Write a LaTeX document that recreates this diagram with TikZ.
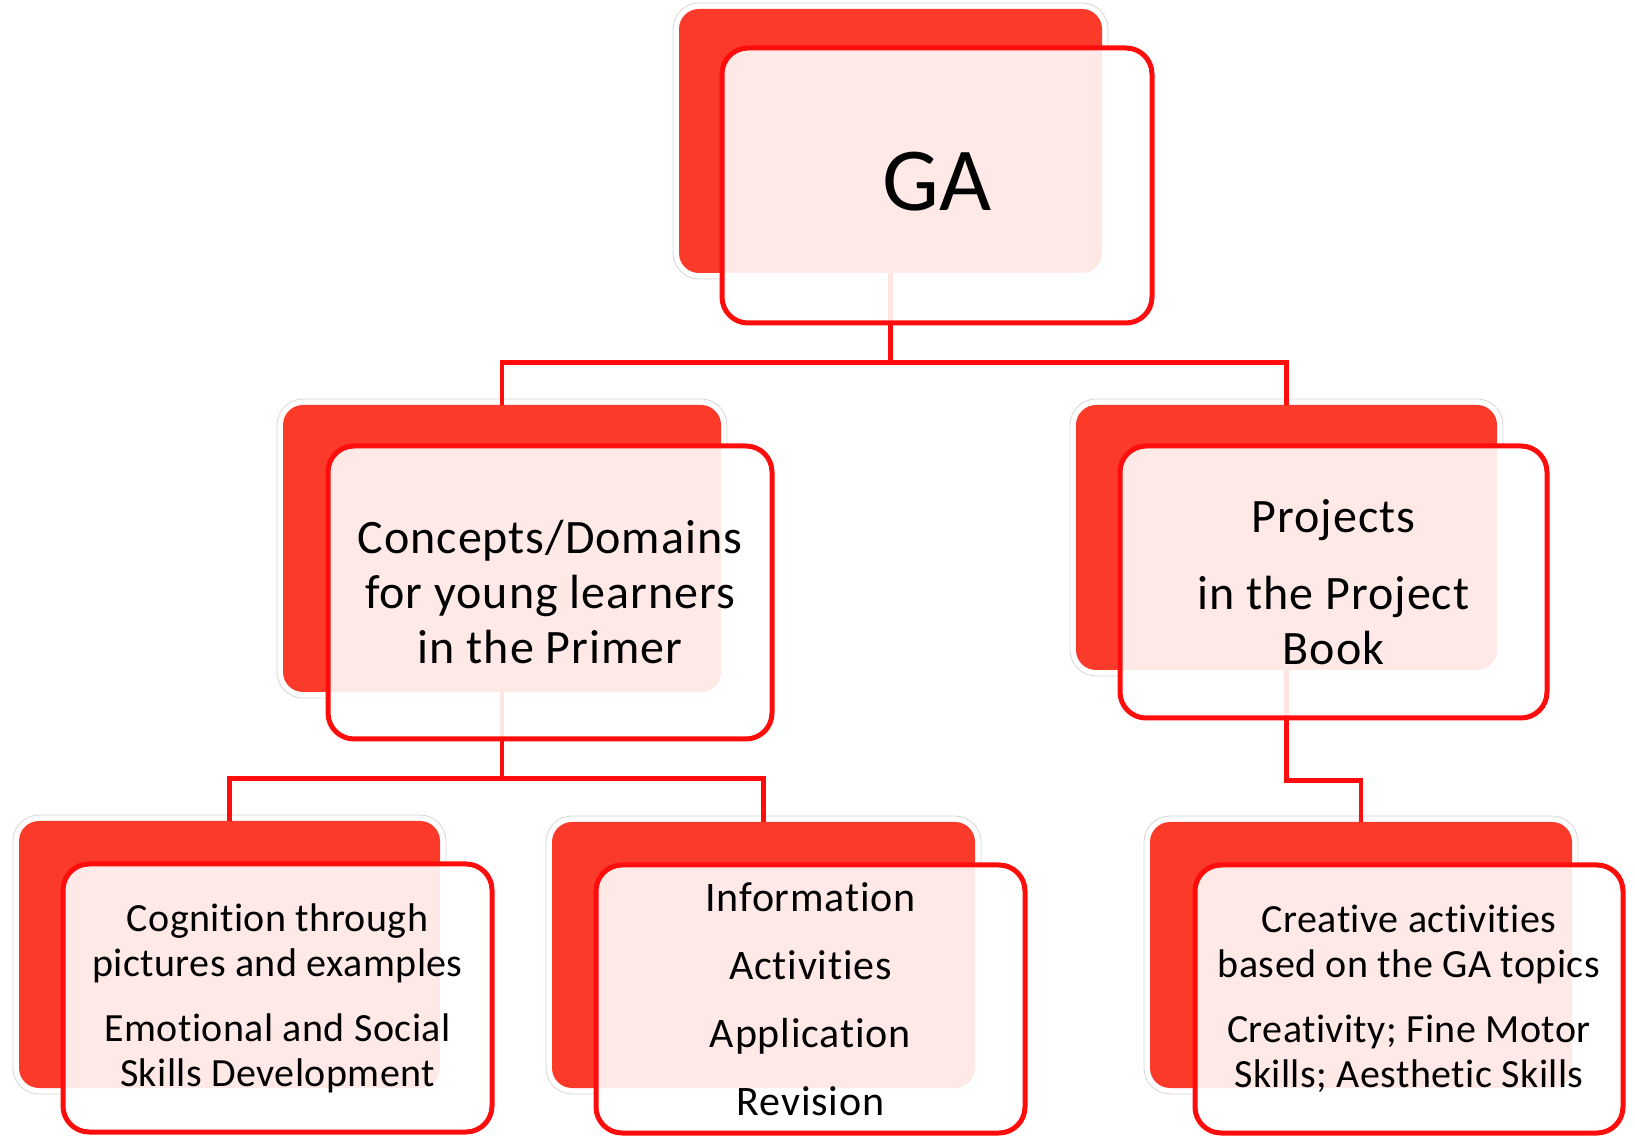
\documentclass[tikz,border=0pt]{standalone}
\usepackage{fontspec}
\setmainfont{Carlito}[Ligatures=NoCommon]
\usetikzlibrary{fit}
\definecolor{backred}{RGB}{252,58,42}
\definecolor{linered}{RGB}{255,12,12}
\begin{document}
\begin{tikzpicture}[x=0.5pt,y=-0.5pt,
  halo/.style={draw=black!16, line width=0.4pt, fill=white, rounded corners=13pt, inner sep=3pt},
  backbox/.style={fill=backred, rounded corners=10pt, inner sep=0pt, draw=none},
  frontbox/.style={draw=linered, line width=2.5pt, fill=white, fill opacity=0.89, rounded corners=13pt, inner sep=0pt},
  conn/.style={draw=linered, line width=2.2pt},
  lbl/.style={align=center, text=black, inner sep=0pt},
  big/.style={font=\fontsize{45}{54}\selectfont},
  mid/.style={font=\fontsize{24}{27.5}\selectfont\addfontfeatures{LetterSpace=2}},
  small/.style={font=\fontsize{20}{22.5}\selectfont\addfontfeatures{LetterSpace=1.1}},
  smallwide/.style={font=\fontsize{21}{34}\selectfont\addfontfeatures{LetterSpace=2}}]
\useasboundingbox (0,0) rectangle (1635,1138);

% halos
\node[halo, fit={(679,9) (1102,273)}] (gaH) {};
\node[halo, fit={(283,405) (721,692)}] (clH) {};
\node[halo, fit={(1076,405) (1497,670)}] (prH) {};
\node[halo, fit={(19,821) (440,1088)}] (blaH) {};
\node[halo, fit={(552,822) (975,1088)}] (blbH) {};
\node[halo, fit={(1150,822) (1572,1088)}] (blcH) {};

% back boxes
\node[backbox, fit={(679,9) (1102,273)}] (gaB) {};
\node[backbox, fit={(283,405) (721,692)}] (clB) {};
\node[backbox, fit={(1076,405) (1497,670)}] (prB) {};
\node[backbox, fit={(19,821) (440,1088)}] (blaB) {};
\node[backbox, fit={(552,822) (975,1088)}] (blbB) {};
\node[backbox, fit={(1150,822) (1572,1088)}] (blcB) {};

% connectors
\draw[conn] (gaB.south) -- ++(0,89) -| (clB.north);
\draw[conn] (gaB.south) -- ++(0,89) -| (prB.north);
\draw[conn] (clB.south) -- ++(0,86) -| (blaB.north);
\draw[conn] (clB.south) -- ++(0,86) -| (blbB.north);
\draw[conn] (prB.south) -- ++(0,110) -| (blcB.north);

% front boxes
\node[frontbox, fit={(722,48) (1152,323)}] (gaF) {};
\node[frontbox, fit={(328,446) (772,739)}] (clF) {};
\node[frontbox, fit={(1120,446) (1547,718)}] (prF) {};
\node[frontbox, fit={(63,864) (492,1132)}] (blaF) {};
\node[frontbox, fit={(596,865) (1025,1133)}] (blbF) {};
\node[frontbox, fit={(1195,865) (1623,1133)}] (blcF) {};

% texts
\node[lbl, big] (gaT) at ([yshift=2pt]gaF.center) {GA};
\node[lbl, mid] (clT) at (clF.center) {Concepts/Domains\\for young learners\\in the Primer};
\node[lbl, mid] (prT) at (prF.center) {Projects\\[11pt]in the Project\\Book};
\node[lbl, small] (blaT) at (blaF.center) {Cognition through\\pictures and examples\\[10pt]Emotional and Social\\Skills Development};
\node[lbl, smallwide] (blbT) at (blbF.center) {Information\\Activities\\Application\\Revision};
\node[lbl, small] (blcT) at (blcF.center) {Creative activities\\based on the GA topics\\[10pt]Creativity; Fine Motor\\Skills; Aesthetic Skills};
\end{tikzpicture}
\end{document}
